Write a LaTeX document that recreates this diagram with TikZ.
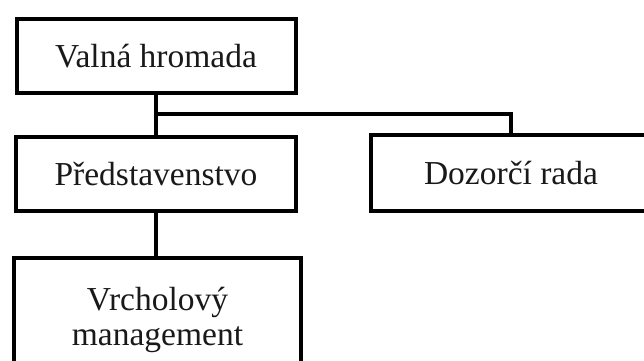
\documentclass[tikz,border=0pt]{standalone}
\usepackage{fontspec}
\setmainfont{Liberation Serif}
\begin{document}
\begin{tikzpicture}[x=1pt,y=-1pt,
  box/.style={draw=black,line width=4pt,rectangle,inner sep=0pt,align=center,
    font=\fontsize{33.5}{35}\selectfont,text=black!90},
  link/.style={draw=black,line width=4pt}]
\useasboundingbox[clip] (0,0) rectangle (644,360);
\fill[white] (0,0) rectangle (644,360);
\node[box,minimum width=279pt,minimum height=74pt] (b1) at (156,56) {Valná hromada};
\node[box,minimum width=280pt,minimum height=74pt] (b2) at (156,174) {Představenstvo};
\node[box,minimum width=280pt,minimum height=76pt] (b3) at (511,173) {Dozorčí rada};
\node[box,minimum width=287pt,minimum height=124pt] (b4) at (157.5,320) {Vrcholový\\management};
\coordinate (j) at (156,114);
\draw[link] (b1.south) -- (b2.north);
\draw[link] (j) -| (b3.north);
\draw[link] (b2.south) -- (b2.south |- b4.north);
\end{tikzpicture}
\end{document}
